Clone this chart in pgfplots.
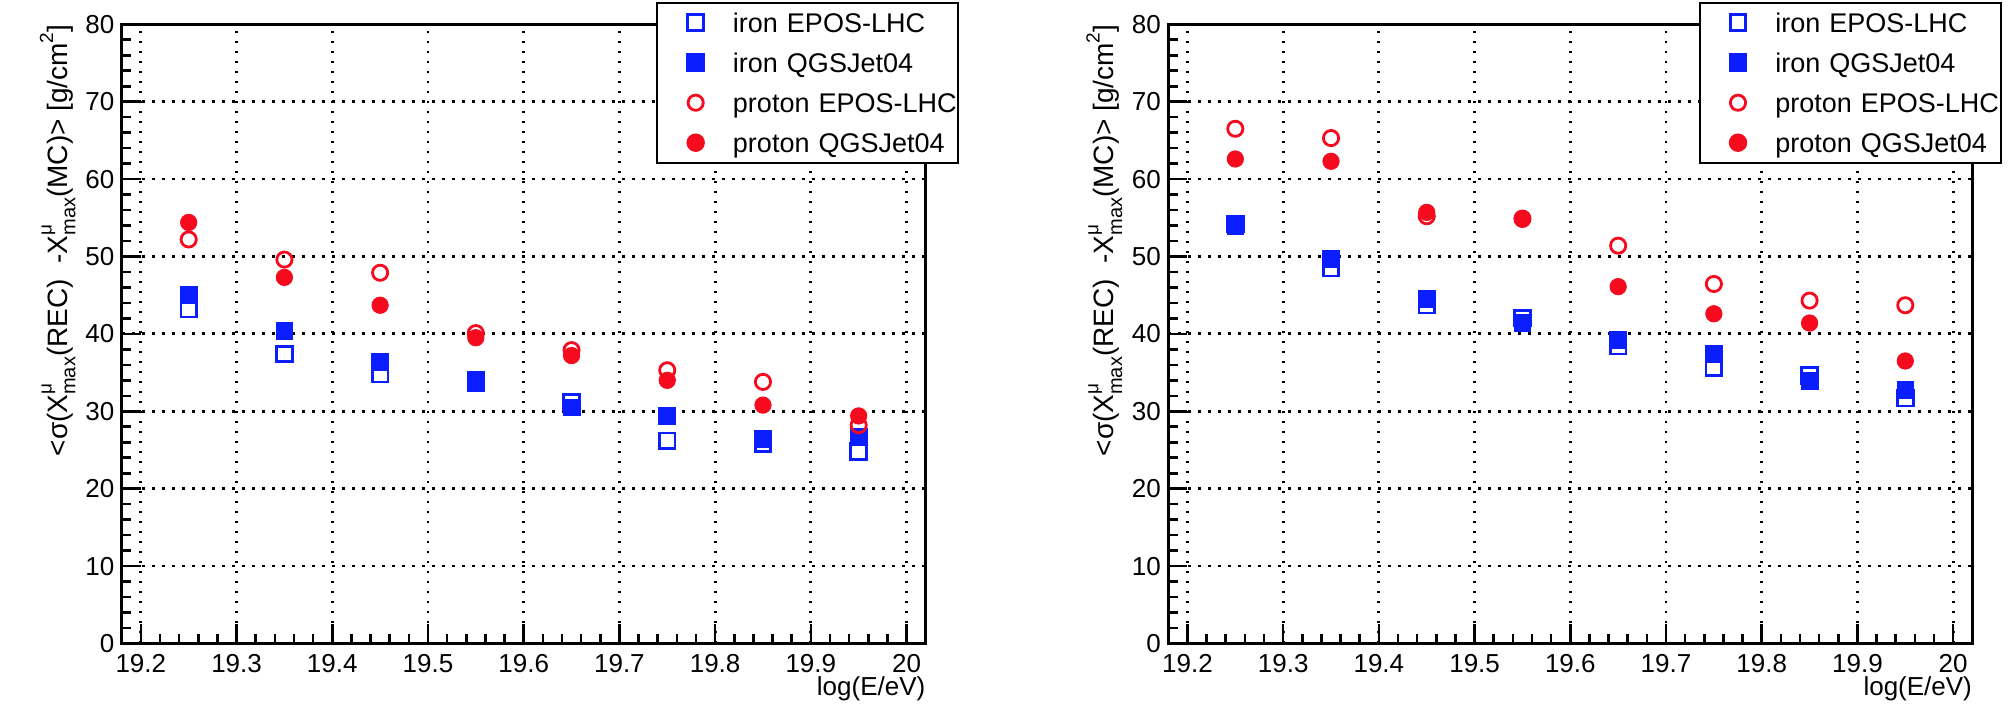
\documentclass[border=0pt]{standalone}
\usepackage{fontspec}
\setmainfont{Liberation Sans}
\usepackage{pgfplots}
\pgfplotsset{compat=1.18}
\definecolor{rblue}{RGB}{10,30,255}
\definecolor{rred}{RGB}{245,10,30}
\newcommand{\mux}{X\rlap{\raisebox{0.55em}{\fontsize{9.5}{10}\selectfont μ}}\raisebox{-0.3em}{\fontsize{10}{10}\selectfont max}}

\pgfplotsset{rootstyle/.style={
  scale only axis, width=402pt, height=309.6pt,
  xmin=19.18, xmax=20.02, ymin=0, ymax=80,
  xtick={19.2,19.3,19.4,19.5,19.6,19.7,19.8,19.9,20},
  xticklabels={19.2,19.3,19.4,19.5,19.6,19.7,19.8,19.9,20},
  ytick={0,10,20,30,40,50,60,70,80},
  minor x tick num=4, minor y tick num=4,
  tick align=inside, tick pos=left,
  major tick length=9.5pt, minor tick length=4.75pt,
  every tick/.style={black, line width=1.3pt},
  axis line style={line width=1.6pt},
  grid=major,
  major grid style={black, line width=1.4pt, dash pattern=on 1.4pt off 3.6pt},
  /pgf/number format/assume math mode=true,
  ticklabel style={font=\fontsize{13}{15}\selectfont},
  xticklabel style={inner sep=0pt, yshift=-5pt},
  yticklabel style={inner sep=0pt, xshift=-3.5pt},
  xlabel={log(E/eV)},
  xlabel style={at={(axis description cs:1,0)}, anchor=base east, inner sep=0pt, yshift=-26pt, font=\fontsize{13}{15}\selectfont},
  ylabel={<σ(\mux(REC)\ \ -\mux(MC)> [g/cm\raisebox{0.5em}{\fontsize{9.5}{10}\selectfont 2}]},
  ylabel style={at={(axis description cs:-0.068,1)}, anchor=base east, inner sep=0pt, font=\fontsize{14}{16}\selectfont},
  legend style={at={(axis description cs:1,1)}, anchor=north east, xshift=16.3pt, yshift=10.8pt,
    draw=black, line width=1pt, fill=white, inner sep=0pt, outer sep=0pt,
    row sep=0pt, column sep=0pt, font=\fontsize{13.5}{15}\selectfont,
    cells={anchor=west},
    nodes={inner sep=0pt, text height=14.8pt, text depth=5.2pt, text width=112.65pt, align=left}},
  legend image code/.code={\path (0pt,0pt) (36.85pt,0pt); \draw[##1] plot coordinates {(18.7pt,0pt)};},
  iE/.style={only marks, mark=square, mark size=3.9pt, color=rblue, mark options={draw=rblue, fill=none, line width=1.4pt}},
  iQ/.style={only marks, mark=square*, mark size=4.2pt, color=rblue, mark options={draw=none, fill=rblue}},
  pE/.style={only marks, mark=o, mark size=3.8pt, color=rred, mark options={draw=rred, fill=none, line width=1.4pt}},
  pQ/.style={only marks, mark=*, mark size=4.1pt, color=rred, mark options={draw=none, fill=rred}},
}}

\begin{document}
\begin{tikzpicture}
\useasboundingbox (0,0) rectangle (1006pt,355pt);
\begin{axis}[rootstyle, at={(60.85pt,33.25pt)}, anchor=south west]
\addplot[iE] coordinates {(19.25,43.2) (19.35,37.4) (19.45,34.8) (19.55,34.0) (19.65,31.2) (19.75,26.2) (19.85,25.8) (19.95,24.8)};
\addlegendentry{iron EPOS-LHC}
\addplot[iQ] coordinates {(19.25,45.0) (19.35,40.4) (19.45,36.4) (19.55,33.7) (19.65,30.5) (19.75,29.4) (19.85,26.4) (19.95,26.7)};
\addlegendentry{iron QGSJet04}
\addplot[pE] coordinates {(19.25,52.2) (19.35,49.6) (19.45,47.9) (19.55,40.1) (19.65,37.9) (19.75,35.3) (19.85,33.8) (19.95,28.2)};
\addlegendentry{proton EPOS-LHC}
\addplot[pQ] coordinates {(19.25,54.4) (19.35,47.3) (19.45,43.7) (19.55,39.5) (19.65,37.2) (19.75,34.0) (19.85,30.8) (19.95,29.4)};
\addlegendentry{proton QGSJet04}
\end{axis}
\begin{axis}[rootstyle, at={(584.15pt,33.25pt)}, anchor=south west, legend style={xshift=-2.15pt}]
\addplot[iE] coordinates {(19.25,54.2) (19.35,48.5) (19.45,43.7) (19.55,42.05) (19.65,38.4) (19.75,35.6) (19.85,34.65) (19.95,31.7)};
\addlegendentry{iron EPOS-LHC}
\addplot[iQ] coordinates {(19.25,53.9) (19.35,49.7) (19.45,44.5) (19.55,41.45) (19.65,39.2) (19.75,37.45) (19.85,33.9) (19.95,32.75)};
\addlegendentry{iron QGSJet04}
\addplot[pE] coordinates {(19.25,66.5) (19.35,65.3) (19.45,55.2) (19.55,54.9) (19.65,51.4) (19.75,46.45) (19.85,44.3) (19.95,43.7)};
\addlegendentry{proton EPOS-LHC}
\addplot[pQ] coordinates {(19.25,62.6) (19.35,62.3) (19.45,55.7) (19.55,54.8) (19.65,46.1) (19.75,42.6) (19.85,41.4) (19.95,36.5)};
\addlegendentry{proton QGSJet04}
\end{axis}
\end{tikzpicture}
\end{document}
